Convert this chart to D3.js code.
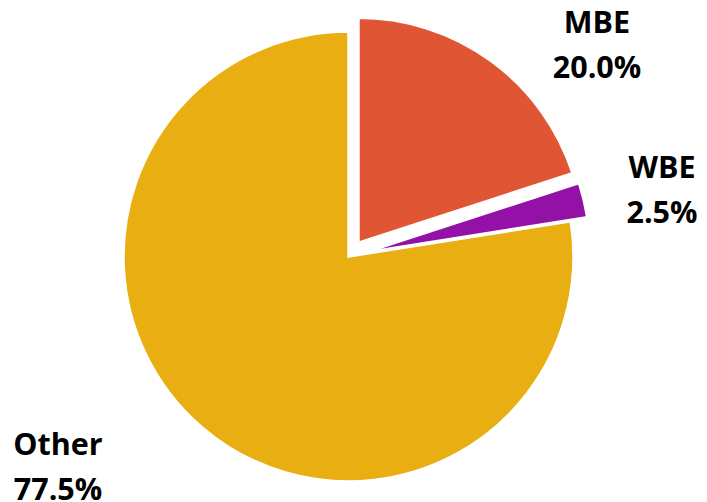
<!DOCTYPE html>
<html><head><meta charset="utf-8">
<script src="https://cdn.jsdelivr.net/npm/d3@7"></script>
<style>html,body{margin:0;padding:0;background:#fff;}</style>
</head><body>
<svg id="chart" width="707" height="502"></svg>
<script>
const categories = ["MBE", "WBE", "Other"];
const values = [20.0, 2.5, 77.5];
const valueLabels = ["20.0%", "2.5%", "77.5%"];
const colors = ["#E05533", "#9411A7", "#E9AE11"];
const explode = [17, 17, 0];

const svg = d3.select("#chart");
const cx = 348.5, cy = 256.5, r = 225;
const pie = d3.pie().sort(null).value(d => d)(values);
const arc = d3.arc().innerRadius(0).outerRadius(r);
const g = svg.append("g").attr("transform", `translate(${cx},${cy})`);

g.selectAll("path").data(pie).join("path")
  .attr("d", arc)
  .attr("fill", (d, i) => colors[i])
  .attr("stroke", "#fff")
  .attr("stroke-width", 2.5)
  .attr("stroke-linejoin", "miter")
  .attr("transform", (d, i) => {
    const a = (d.startAngle + d.endAngle) / 2;
    return `translate(${Math.sin(a) * explode[i]},${-Math.cos(a) * explode[i]})`;
  });

const labelPos = [[597, 33], [662, 178], [58, 455]];
const lab = svg.append("g").attr("font-family", "'Open Sans', 'Liberation Sans', Arial, sans-serif")
  .attr("font-weight", "bold").attr("font-size", 30.5).attr("fill", "#000")
  .attr("text-anchor", "middle");
categories.forEach((c, i) => {
  const t = lab.append("text").attr("x", labelPos[i][0]).attr("y", labelPos[i][1]);
  t.append("tspan").attr("x", labelPos[i][0]).text(c);
  t.append("tspan").attr("x", labelPos[i][0]).attr("dy", 45).text(valueLabels[i]);
});
</script>
</body></html>
